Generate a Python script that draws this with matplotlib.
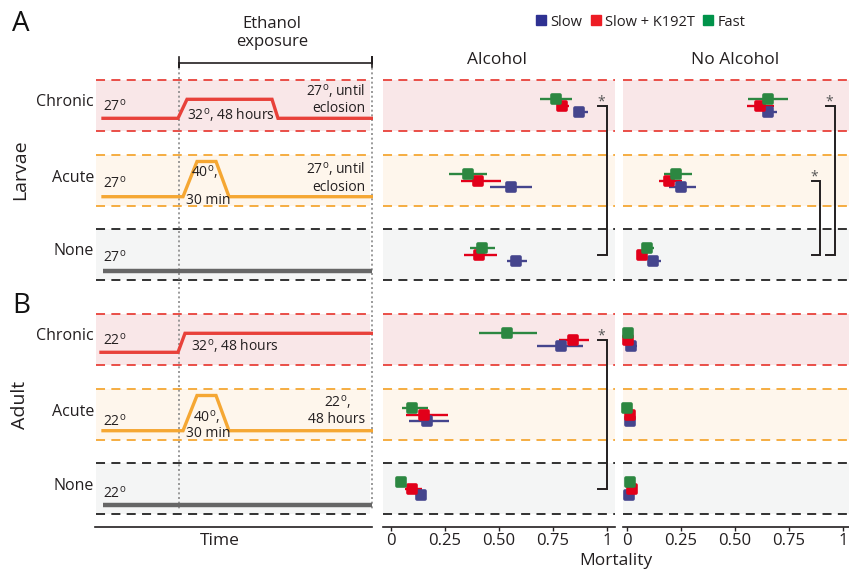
import numpy as np
import matplotlib.pyplot as plt
from matplotlib.markers import MarkerStyle
from matplotlib.lines import Line2D

plt.rcParams['font.family'] = ['Open Sans', 'DejaVu Sans']
plt.rcParams['mathtext.fontset'] = 'custom'
plt.rcParams['mathtext.rm'] = 'Open Sans'

W, H = 849, 570

# ---- data (mortality), rows = Chronic, Acute, None ----
genotypes = ['Slow', 'Slow + K192T', 'Fast']
conditions = ['Chronic', 'Acute', 'None']

larvae_alc_mean = [[0.872, 0.556, 0.577], [0.790, 0.404, 0.409], [0.762, 0.358, 0.420]]
larvae_alc_lo = [[0.850, 0.458, 0.538], [0.767, 0.324, 0.338], [0.690, 0.269, 0.366]]
larvae_alc_hi = [[0.910, 0.651, 0.628], [0.824, 0.508, 0.489], [0.837, 0.446, 0.480]]

larvae_noalc_mean = [[0.654, 0.248, 0.119], [0.616, 0.196, 0.068], [0.650, 0.227, 0.093]]
larvae_noalc_lo = [[0.631, 0.196, 0.099], [0.554, 0.147, 0.050], [0.559, 0.171, 0.068]]
larvae_noalc_hi = [[0.696, 0.319, 0.156], [0.681, 0.253, 0.090], [0.744, 0.299, 0.126]]

adult_alc_mean = [[0.785, 0.165, 0.137], [0.844, 0.153, 0.096], [0.539, 0.096, 0.045]]
adult_alc_lo = [[0.676, 0.083, 0.116], [0.779, 0.069, 0.065], [0.407, 0.049, 0.045]]
adult_alc_hi = [[0.890, 0.267, 0.160], [0.918, 0.262, 0.142], [0.674, 0.170, 0.045]]

adult_noalc_mean = [[0.017, 0.014, 0.011], [0.006, 0.012, 0.022], [0.003, 0.001, 0.016]]
adult_noalc_lo = [[0.010, 0.010, 0.005], [0.004, 0.008, 0.018], [0.002, 0.000, 0.012]]
adult_noalc_hi = [[0.045, 0.020, 0.015], [0.008, 0.016, 0.026], [0.004, 0.002, 0.020]]

ticks = [0, 0.25, 0.5, 0.75, 1]
tick_labels = ['0', '0.25', '0.50', '0.75', '1']

# ---- styling / layout (pixel units) ----
pt_col = ['#45458d', '#e2001a', '#2c8741']
leg_col = ['#2e3192', '#ed1c24', '#00934a']
band_fill = ['#f9e7e8', '#fef6ec', '#f4f5f5']
band_edge = ['#e8413a', '#f5a733', '#222222']
rows_y = [105.5, 180.5, 254.5, 339.5, 414.5, 488.5]
half = 25.5
offs = [6, 0, -6.5]
y_top, y_bot = 78, 527
tc = '#231f20'


def box(x0, x1):
    return [x0 / W, 1 - y_bot / H, (x1 - x0) / W, (y_bot - y_top) / H]


fig = plt.figure(figsize=(W / 100, H / 100), dpi=100)


def bands(ax, x0=None, x1=None):
    for r, y in enumerate(rows_y):
        k = r % 3
        if x0 is None:
            ax.axhspan(y - half, y + half, color=band_fill[k], lw=0, zorder=0)
            for yy in (y - half, y + half):
                ax.axhline(yy, color=band_edge[k], lw=1.3, ls=(0, (5, 3.5)), zorder=1)
        else:
            ax.fill_between([x0, x1], y - half, y + half, color=band_fill[k], lw=0, zorder=0)
            for yy in (y - half, y + half):
                ax.plot([x0, x1], [yy, yy], color=band_edge[k], lw=1.3,
                        ls=(0, (5, 3.5)), zorder=1)


def style(ax):
    ax.set_ylim(y_bot, y_top)
    for s in ['top', 'right', 'left']:
        ax.spines[s].set_visible(False)
    ax.spines['bottom'].set_linewidth(1.2)
    ax.spines['bottom'].set_color(tc)
    ax.set_yticks([])
    ax.patch.set_alpha(0)


mk = MarkerStyle('s', joinstyle='round')


def panel(x0, x1, xl, blocks):
    ax = fig.add_axes(box(x0, x1))
    style(ax)
    ax.set_xlim(*xl)
    bands(ax)
    for block, (m, lo, hi) in enumerate(blocks):
        for g in range(3):
            ys = np.array(rows_y[block * 3:block * 3 + 3]) + offs[g]
            ax.hlines(ys, lo[g], hi[g], color=pt_col[g], lw=1.7, zorder=3)
            ax.plot(m[g], ys, ls='none', marker=mk, ms=6.2, mfc=pt_col[g],
                    mec=pt_col[g], mew=2.6, zorder=4, clip_on=False)
    ax.set_xticks(ticks)
    ax.set_xticklabels(tick_labels, fontsize=12, color=tc)
    ax.tick_params(axis='x', length=3, width=1, pad=1, color=tc)
    return ax


ax_alc = panel(383, 615, (-0.037, 1.037),
               [(larvae_alc_mean, larvae_alc_lo, larvae_alc_hi),
                (adult_alc_mean, adult_alc_lo, adult_alc_hi)])
ax_no = panel(623, 849, (-0.0185, 1.027),
              [(larvae_noalc_mean, larvae_noalc_lo, larvae_noalc_hi),
               (adult_noalc_mean, adult_noalc_lo, adult_noalc_hi)])


def bracket(ax, x, xt, y0, y1, sx):
    ax.plot([xt, x, x, xt], [y0, y0, y1, y1], color=tc, lw=1.4,
            solid_joinstyle='miter', clip_on=False, zorder=5)
    ax.text(sx, y0 - 4, '*', ha='center', va='center', fontsize=10, color='#555555')


bracket(ax_alc, 0.999, 0.958, rows_y[0], rows_y[2], 0.972)
bracket(ax_alc, 0.999, 0.958, rows_y[3], rows_y[5], 0.972)
bracket(ax_no, 0.963, 0.921, rows_y[0], rows_y[2], 0.937)
bracket(ax_no, 0.894, 0.855, rows_y[1], rows_y[2], 0.867)

# ---- schematic of temperature profiles ----
ax_s = fig.add_axes(box(96, 373))
style(ax_s)
ax_s.set_xlim(96, 373)
ax_s.set_xticks([])
ax_s.spines['bottom'].set_bounds(95, 372)
bands(ax_s, 96, 370)

# time points and offsets (from row centre) of each profile
t_chronic_larvae = [103, 178, 187, 272, 278, 372]
v_chronic_larvae = [12.8, 12.8, -6.2, -6.2, 12.8, 12.8]
t_acute = [103, 183, 197, 216, 229, 372]
v_acute = [16.2, 16.2, -19, -19, 16.2, 16.2]
t_chronic_adult = [101, 178, 185, 372]
v_chronic_adult = [12.8, 12.8, -6.2, -6.2]
t_none = [103, 372]
v_none = [16.2, 16.2]

prof_col = ['#e8413a', '#f5a733', '#666666']
for b in range(2):
    y0 = rows_y[b * 3]
    tcx, vc = (t_chronic_larvae, v_chronic_larvae) if b == 0 else (t_chronic_adult, v_chronic_adult)
    ax_s.plot(tcx, y0 + np.array(vc), color=prof_col[0], lw=2.4, zorder=3,
              solid_joinstyle='miter')
    ax_s.plot(t_acute, rows_y[b * 3 + 1] + np.array(v_acute), color=prof_col[1],
              lw=2.4, zorder=3, solid_joinstyle='miter')
    ax_s.plot(t_none, rows_y[b * 3 + 2] + np.array(v_none), color=prof_col[2],
              lw=3.2, zorder=3, solid_capstyle='butt')

for xv in (179, 372):
    ax_s.plot([xv, xv], [63, 509], color='#8a8a8a', lw=1.2, ls=(0, (1.2, 1.6)),
              clip_on=False, zorder=2)

fs = 10
deg = r'$^{\rm o}$'
base_t = ['27', '27', '27', '22', '22', '22']
base_dy = [1.5, 3.5, 3.2, 1.5, 7.2, 5.5]
for r, y in enumerate(rows_y):
    ax_s.text(103, y + base_dy[r], base_t[r] + deg, fontsize=fs, color=tc,
              ha='left', va='center')
ax_s.text(187, 115, '32' + deg + ', 48 hours', fontsize=fs, color=tc, va='center')
ax_s.text(365, 99, '27' + deg + ', until\neclosion', fontsize=fs, color=tc,
          ha='right', va='center', linespacing=1.15)
ax_s.text(191, 171.7, '40' + deg + ',', fontsize=fs, color=tc, va='center')
ax_s.text(186, 201, '30 min', fontsize=fs, color=tc, va='center')
ax_s.text(365, 177.5, '27' + deg + ', until\neclosion', fontsize=fs, color=tc,
          ha='right', va='center', linespacing=1.15)
ax_s.text(191, 346, '32' + deg + ', 48 hours', fontsize=fs, color=tc, va='center')
ax_s.text(193, 416.7, '40' + deg + ',', fontsize=fs, color=tc, va='center')
ax_s.text(186, 433.3, '30 min', fontsize=fs, color=tc, va='center')
ax_s.text(337, 410, '22' + deg + ',\n48 hours', fontsize=fs, color=tc,
          ha='center', va='center', linespacing=1.15)

# ethanol exposure bracket
ax_s.plot([179, 179, 179, 372, 372, 372], [57, 67, 63, 63, 57, 67],
          color=tc, lw=1.2, clip_on=False)
fig.text(272 / W, 1 - 33 / H, 'Ethanol\nexposure', ha='center', va='center',
         fontsize=12, color=tc, linespacing=1.15)

# row labels
for r, y in enumerate(rows_y):
    fig.text(94 / W, 1 - (y - 3) / H, conditions[r % 3], ha='right', va='center',
             fontsize=11.5, color=tc)

fig.text(20 / W, 1 - 170 / H, 'Larvae', rotation=90, ha='center', va='center',
         fontsize=14, color=tc)
fig.text(20 / W, 1 - 405 / H, 'Adult', rotation=90, ha='center', va='center',
         fontsize=14, color=tc)
fig.text(12 / W, 1 - 24 / H, 'A', fontsize=20, ha='left', va='center', color='#111111')
fig.text(12 / W, 1 - 306 / H, 'B', fontsize=20, ha='left', va='center', color='#111111')

fig.text(220 / W, 1 - 541 / H, 'Time', ha='center', va='center', fontsize=12.5, color=tc)
fig.text(616 / W, 1 - 561 / H, 'Mortality', ha='center', va='center', fontsize=12.5, color=tc)
fig.text(497 / W, 1 - 60 / H, 'Alcohol', ha='center', va='center', fontsize=12.5, color=tc)
fig.text(735 / W, 1 - 60 / H, 'No Alcohol', ha='center', va='center', fontsize=12.5, color=tc)

handles = [Line2D([], [], ls='none', marker='s', ms=7, mfc=c, mec=c) for c in leg_col]
fig.legend(handles, genotypes, loc='center', bbox_to_anchor=(641 / W, 1 - 22 / H),
           ncol=3, frameon=False, fontsize=10.5, handlelength=0.6, handletextpad=0.35,
           columnspacing=0.6, borderpad=0, labelcolor=tc)

fig.savefig('out.png', dpi=100)
